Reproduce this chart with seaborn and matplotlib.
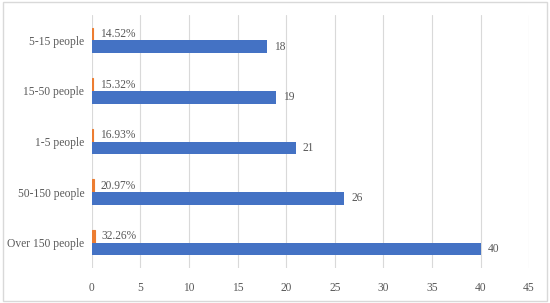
import pandas as pd
import matplotlib.pyplot as plt
import seaborn as sns
from matplotlib.patches import Rectangle

# data
groups = ['5-15 people', '15-50 people', '1-5 people', '50-150 people', 'Over 150 people']
counts = [18, 19, 21, 26, 40]
shares = [0.1452, 0.1532, 0.1693, 0.2097, 0.3226]
share_labels = ['14.52%', '15.32%', '16.93%', '20.97%', '32.26%']

df = pd.DataFrame({
    'group': groups * 2,
    'value': shares + counts,
    'series': ['share'] * len(groups) + ['count'] * len(groups),
})

sns.set_style('white')
plt.rcParams['font.family'] = ['Liberation Serif', 'DejaVu Serif']

fig = plt.figure(figsize=(5.5, 3.03), dpi=100)
ax = fig.add_axes([0.167, 0.116, 0.795, 0.834])

sns.barplot(data=df, y='group', x='value', hue='series', hue_order=['share', 'count'],
            order=groups, palette={'share': '#ED7D31', 'count': '#4472C4'},
            width=0.5, orient='h', ax=ax, legend=False, saturation=1)

# thin orange bars need an outline to stay visible
for i, c in enumerate(ax.containers):
    for p in c:
        p.set_edgecolor('#ED7D31' if i == 0 else '#4472C4')
        p.set_linewidth(0.8 if i == 0 else 0)
        p.set_zorder(3)

# value labels
for i, c in enumerate(ax.containers):
    lbls = share_labels if i == 0 else [str(v) for v in counts]
    ax.bar_label(c, labels=lbls, padding=5, fontsize=8.3, color='#595959')

ax.set_xlim(0, 45)
ax.set_xticks(range(0, 46, 5))
ax.set_xlabel('')
ax.set_ylabel('')
ax.grid(axis='x', color='#d9d9d9', linewidth=0.8)
ax.set_axisbelow(True)
for s in ax.spines.values():
    s.set_visible(False)
ax.tick_params(axis='both', length=0, labelsize=8.3, labelcolor='#595959')
ax.tick_params(axis='x', pad=10)
ax.tick_params(axis='y', pad=5.5)

fig.patches.append(Rectangle((0.005, 0.007), 0.99, 0.986, transform=fig.transFigure,
                             fill=False, edgecolor='#d9d9d9', linewidth=1))

fig.savefig('out.png', dpi=100)
